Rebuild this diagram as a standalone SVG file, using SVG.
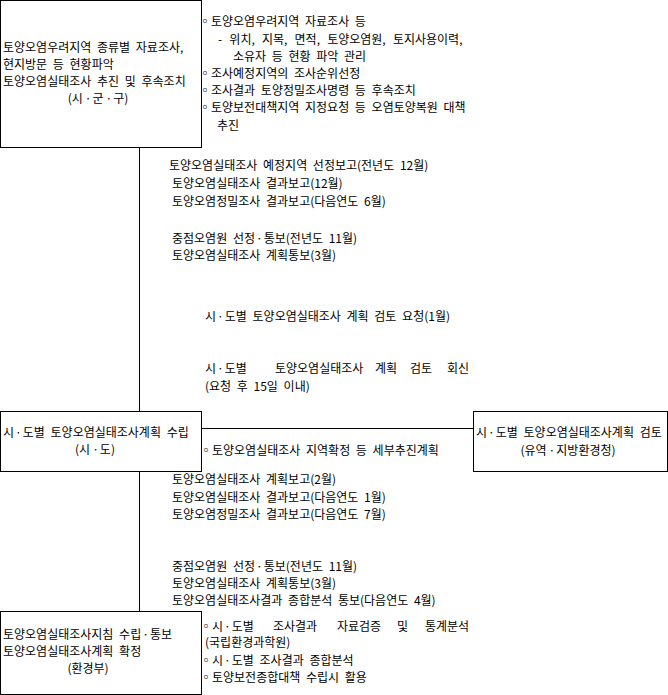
<svg xmlns="http://www.w3.org/2000/svg" width="668" height="695" viewBox="0 0 668 695">
<style>
text{font-family:"Noto Sans CJK KR","Liberation Sans",sans-serif;font-size:12px;fill:#000;word-spacing:3px}
.c{text-anchor:middle}
.d{letter-spacing:1px}
.box{fill:#fff;stroke:#000;stroke-width:1}
.ln{stroke:#000;stroke-width:1;fill:none}
</style>
<rect width="668" height="695" fill="#fff"/>
<g id="connectors">
<line class="ln" x1="139.5" y1="148" x2="139.5" y2="411"/>
<line class="ln" x1="139.5" y1="472" x2="139.5" y2="611"/>
<line class="ln" x1="202" y1="428.5" x2="473" y2="428.5"/>
</g>
<g id="node-sigungu">
<rect class="box" x="0.5" y="0.5" width="201" height="147"/>
<text x="3" y="52">토양오염우려지역 종류별 자료조사,</text>
<text x="3" y="69">현지방문 등 현황파악</text>
<text x="3" y="86">토양오염실태조사 추진 및 후속조치</text>
<text class="c" x="98" y="103">(시<tspan class="d" dx="2">·</tspan>군<tspan class="d" dx="2">·</tspan>구)</text>
</g>
<g id="notes-sigungu">
<text x="199" y="26">◦토양오염우려지역 자료조사 등</text>
<text x="218" y="44" style="word-spacing:4.5px">- 위치, 지목, 면적, 토양오염원, 토지사용이력,</text>
<text x="233" y="61">소유자 등 현황 파악 관리</text>
<text x="199" y="78">◦조사예정지역의 조사순위선정</text>
<text x="199" y="95">◦조사결과 토양정밀조사명령 등 후속조치</text>
<text x="199" y="112">◦토양보전대책지역 지정요청 등 오염토양복원 대책</text>
<text x="217" y="130">추진</text>
</g>
<g id="labels-up">
<text x="169" y="170">토양오염실태조사 예정지역 선정보고(전년도 12월)</text>
<text x="172" y="188">토양오염실태조사 결과보고(12월)</text>
<text x="172" y="206">토양오염정밀조사 결과보고(다음연도 6월)</text>
<text x="172" y="243">중점오염원 선정<tspan class="d" dx="1">·</tspan>통보(전년도 11월)</text>
<text x="172" y="260">토양오염실태조사 계획통보(3월)</text>
</g>
<g id="labels-review">
<text x="205" y="321">시<tspan class="d" dx="1">·</tspan>도별 토양오염실태조사 계획 검토 요청(1월)</text>
<text y="373"><tspan x="205">시</tspan><tspan class="d" dx="1">·</tspan><tspan>도별</tspan><tspan x="275">토양오염실태조사</tspan><tspan x="375">계획</tspan><tspan x="410">검토</tspan><tspan x="447">회신</tspan></text>
<text x="205" y="391">(요청 후 15일 이내)</text>
</g>
<g id="node-sido">
<rect class="box" x="0.5" y="411.5" width="201" height="60"/>
<text x="3" y="437">시<tspan class="d" dx="1">·</tspan>도별 토양오염실태조사계획 수립</text>
<text class="c" x="95" y="454">(시<tspan class="d" dx="2">·</tspan>도)</text>
</g>
<g id="node-review">
<rect class="box" x="473.5" y="411.5" width="194" height="60"/>
<text x="476" y="437">시<tspan class="d" dx="1">·</tspan>도별 토양오염실태조사계획 검토</text>
<text class="c" x="568" y="455">(유역<tspan class="d" dx="2">·</tspan>지방환경청)</text>
</g>
<g id="notes-sido">
<text x="200" y="455">◦토양오염실태조사 지역확정 등 세부추진계획</text>
<text x="172" y="484">토양오염실태조사 계획보고(2월)</text>
<text x="172" y="502">토양오염실태조사 결과보고(다음연도 1월)</text>
<text x="172" y="519">토양오염정밀조사 결과보고(다음연도 7월)</text>
</g>
<g id="labels-down">
<text x="172" y="571">중점오염원 선정<tspan class="d" dx="1">·</tspan>통보(전년도 11월)</text>
<text x="172" y="588">토양오염실태조사 계획통보(3월)</text>
<text x="172" y="605">토양오염실태조사결과 종합분석 통보(다음연도 4월)</text>
</g>
<g id="node-ministry">
<rect class="box" x="0.5" y="611.5" width="201" height="83"/>
<text x="3" y="639">토양오염실태조사지침 수립<tspan class="d" dx="1">·</tspan>통보</text>
<text x="3" y="656">토양오염실태조사계획 확정</text>
<text class="c" x="88" y="673">(환경부)</text>
</g>
<g id="notes-ministry">
<text y="631"><tspan x="200">◦시</tspan><tspan class="d" dx="1">·</tspan><tspan>도별</tspan><tspan x="273">조사결과</tspan><tspan x="337">자료검증</tspan><tspan x="397">및</tspan><tspan x="425">통계분석</tspan></text>
<text x="205" y="647">(국립환경과학원)</text>
<text x="200" y="665">◦시<tspan class="d" dx="1">·</tspan>도별 조사결과 종합분석</text>
<text x="200" y="682">◦토양보전종합대책 수립시 활용</text>
</g>
</svg>
